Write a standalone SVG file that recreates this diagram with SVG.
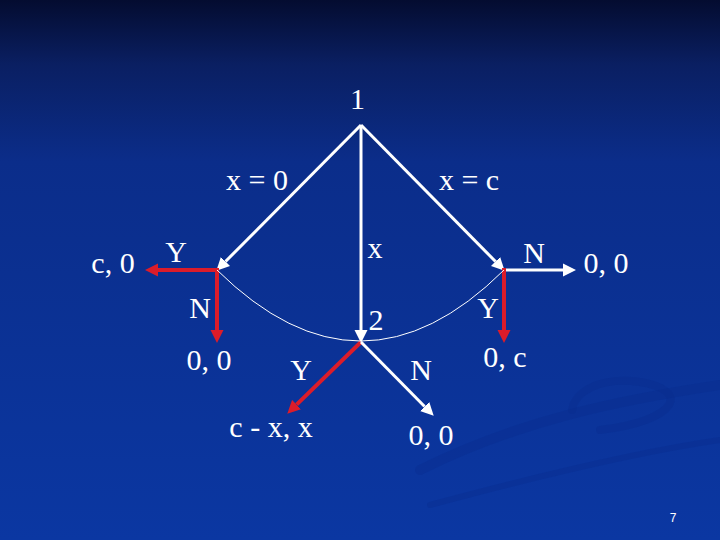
<svg xmlns="http://www.w3.org/2000/svg" width="720" height="540" viewBox="0 0 720 540">
  <defs>
    <linearGradient id="bg" x1="0" y1="0" x2="0" y2="1">
      <stop offset="0" stop-color="#040c30"/>
      <stop offset="0.12" stop-color="#0a1f62"/>
      <stop offset="0.3" stop-color="#0b2d8a"/>
      <stop offset="1" stop-color="#0b37a2"/>
    </linearGradient>
    <marker id="aw" markerUnits="userSpaceOnUse" markerWidth="14" markerHeight="14" refX="0" refY="6.5" orient="auto" viewBox="0 0 14 13">
      <path d="M0,0 L13,6.5 L0,13 z" fill="#ffffff"/>
    </marker>
    <marker id="ar" markerUnits="userSpaceOnUse" markerWidth="14" markerHeight="14" refX="0" refY="6.5" orient="auto" viewBox="0 0 14 13">
      <path d="M0,0 L13,6.5 L0,13 z" fill="#dc1c2a"/>
    </marker>
    <style>
      text { font-family: "Liberation Serif", "Times New Roman", serif; font-size: 30px; fill: #ffffff; }
      .w { stroke: #ffffff; stroke-width: 3; fill: none; }
      .r { stroke: #dc1c2a; stroke-width: 4; fill: none; }
      .info { stroke: #ffffff; stroke-width: 1; fill: none; }
      .sw { fill: none; stroke: #0a2c8c; stroke-opacity: 0.35; stroke-linecap: round; }
      .pg { font-family: "Liberation Sans", Arial, sans-serif; font-size: 12px; }
    </style>
  </defs>
  <rect width="720" height="540" fill="url(#bg)"/>
  <g id="background-swoosh">
    <path class="sw" stroke-width="10" d="M420,470 C520,420 620,400 720,385"/>
    <path class="sw" stroke-width="8" d="M600,430 C680,420 690,390 640,382 C600,376 575,392 572,410"/>
    <path class="sw" stroke-width="6" d="M430,505 C560,470 650,450 720,440"/>
  </g>
  <g id="connectors">
    <line class="w" x1="361" y1="125" x2="225.5" y2="261.5" marker-end="url(#aw)"/>
    <line class="w" x1="361" y1="125" x2="495.5" y2="261.5" marker-end="url(#aw)"/>
    <line class="w" x1="361" y1="125" x2="361" y2="330" marker-end="url(#aw)"/>
    <line class="r" x1="219" y1="270" x2="158" y2="270" marker-end="url(#ar)"/>
    <line class="r" x1="217" y1="268" x2="217" y2="330" marker-end="url(#ar)"/>
    <line class="w" x1="502" y1="270" x2="563" y2="270" marker-end="url(#aw)"/>
    <line class="r" x1="504" y1="268" x2="504" y2="330" marker-end="url(#ar)"/>
    <line class="r" x1="361" y1="342" x2="296.6" y2="404.6" marker-end="url(#ar)"/>
    <line class="w" x1="361" y1="342" x2="424.6" y2="406.5" marker-end="url(#aw)"/>
    <path class="info" d="M217,270 Q361,412 504,270"/>
  </g>
  <g id="node1"><text x="357.5" y="109" text-anchor="middle">1</text></g>
  <g id="edge-x0"><text x="257" y="190" text-anchor="middle">x = 0</text></g>
  <g id="edge-xc"><text x="469" y="190" text-anchor="middle">x = c</text></g>
  <g id="edge-x"><text x="375" y="258" text-anchor="middle">x</text></g>
  <g id="nodeL">
    <text x="176" y="262" text-anchor="middle">Y</text>
    <text x="113" y="273" text-anchor="middle">c, 0</text>
    <text x="200" y="318" text-anchor="middle">N</text>
    <text x="209" y="370" text-anchor="middle">0, 0</text>
  </g>
  <g id="nodeR">
    <text x="534" y="263" text-anchor="middle">N</text>
    <text x="606" y="273" text-anchor="middle">0, 0</text>
    <text x="488" y="318" text-anchor="middle">Y</text>
    <text x="505" y="367" text-anchor="middle">0, c</text>
  </g>
  <g id="node2">
    <text x="376" y="330" text-anchor="middle">2</text>
    <text x="301" y="380" text-anchor="middle">Y</text>
    <text x="421" y="380" text-anchor="middle">N</text>
    <text x="271" y="437" text-anchor="middle">c - x, x</text>
    <text x="431" y="445" text-anchor="middle">0, 0</text>
  </g>
  <text class="pg" x="673" y="522" text-anchor="middle">7</text>
</svg>
